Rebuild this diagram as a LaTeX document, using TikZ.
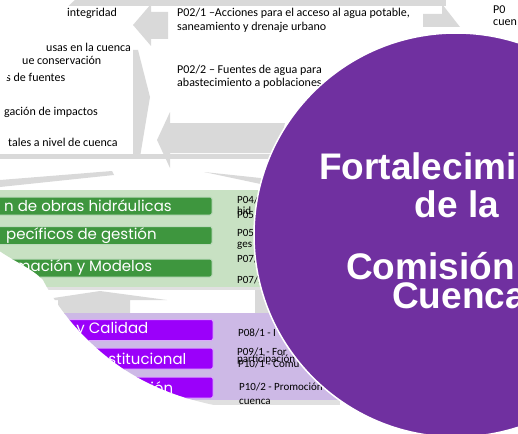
\documentclass[tikz,border=0pt]{standalone}
\usepackage{fontspec}
\setmainfont{Carlito}
\newfontfamily\boxfont{Poppins}
\newfontfamily\titlefont{Liberation Sans}
\usepackage{xcolor}
\usetikzlibrary{positioning}

\definecolor{arrowgray}{RGB}{217,217,217}
\definecolor{panelgreen}{RGB}{200,225,195}
\definecolor{boxgreen}{RGB}{62,150,62}
\definecolor{panelviolet}{RGB}{205,185,230}
\definecolor{boxviolet}{RGB}{155,0,250}
\definecolor{circleviolet}{RGB}{112,48,160}

\tikzset{
  ptext/.style={anchor=west, inner sep=0pt, font=\fontsize{12}{13.5}\selectfont},
  ctext/.style={anchor=west, inner sep=0pt, font=\fontsize{11}{12}\selectfont},
  gbox/.style={draw=white!65!boxgreen, line width=1pt, fill=boxgreen, rounded corners=2pt,
    minimum width=232pt, minimum height=18pt, inner sep=0pt},
  vbox/.style={draw=white!65!boxviolet, line width=1pt, fill=boxviolet, rounded corners=2pt,
    minimum width=232pt, minimum height=21pt, inner sep=0pt},
  btext/.style={anchor=west, inner sep=0pt, text=white, font=\boxfont\fontsize{15}{15}\selectfont},
  ttext/.style={anchor=base west, inner sep=0pt, text=white, font=\titlefont\bfseries\fontsize{37}{37}\selectfont},
}

\begin{document}
\begin{tikzpicture}[x=1pt, y=-1pt]
    \useasboundingbox (0,0) rectangle (518,433);
    \clip (0,0) rectangle (518,433);

    \begin{scope}
        % cut-out of the slide
        \clip (77,-2) .. controls (53,20) and (28,50) .. (-2,88) -- (-2,250)
              .. controls (15,262) and (32,268) .. (43,280)
              .. controls (56,305) and (80,338) .. (118,365)
              .. controls (150,388) and (200,408) .. (262,411)
              -- (520,411) -- (520,-2) -- cycle;

        % gray cycle arrows
        \fill[arrowgray] (0,-2) rectangle (446,6);
        \fill[arrowgray] (423,14) -- (442,14) -- (442,4) -- (460,27) -- (423,27) -- cycle;
        \fill[arrowgray] (133,25) -- (151,4) -- (151,12) -- (168,12) -- (168,39) -- (151,39) -- (151,46) -- cycle;
        \fill[arrowgray] (133,50) -- (138,50) -- (150,97) -- (140,157) -- (133,157) -- cycle;
        \fill[arrowgray] (157,140) -- (170,112) -- (170,123) -- (285,123) -- (278,153) -- (170,153) -- (170,168) -- cycle;
        \fill[arrowgray] (0,154) rectangle (272,159);
        \fill[arrowgray] (0,187) -- (0,180) -- (112,171) -- (114,175) -- cycle;
        \fill[arrowgray] (204,172) -- (270,179) -- (270,186) -- cycle;
        \fill[arrowgray] (40,300) -- (100,291) -- (167,300) -- (130,300) -- (130,314) -- (58,314) -- (58,300) -- cycle;
        \fill[arrowgray] (255,287) rectangle (272,314);

        % top texts
        \node[ptext] (integ) at (67,13) {integridad};
        \node[ptext] (causas) at (46,47) {usas en la cuenca};
        \node[ptext] (conser) at (22,60) {ue conservación};
        \node[ptext] (fuent) at (6,77) {s de fuentes};
        \node[ptext] (mitig) at (4,112) {gación de impactos};
        \node[ptext] (cuenc) at (8,142) {tales a nivel de cuenca};
        \node[ptext] (p021a) at (177,13) {P02/1 –Acciones para el acceso al agua potable,};
        \node[ptext] (p021b) at (177,27) {saneamiento y drenaje urbano};
        \node[ptext] (p022a) at (177,70) {P02/2 – Fuentes de agua para};
        \node[ptext] (p022b) at (177,83) {abastecimiento a poblaciones};
        \node[ptext] (p03a) at (493,10) {P0};
        \node[ptext] (p03b) at (493,23) {cuen};

        % green panel
        \fill[black!12] (-5,286) rectangle (330,290);
        \fill[panelgreen] (-5,190) rectangle (330,287);
        \node[gbox] (obras) at (96,206) {};
        \node[gbox] (gesti) at (96,235.5) {};
        \node[gbox] (model) at (96,268) {};
        \node[btext] (obrast) at (4,206) {n de obras hidráulicas};
        \node[btext] (gestit) at (6,235.5) {pecíficos de gestión};
        \node[btext] (modelt) at (15,268) {mación y Modelos};
        \node[ctext] (p04a) at (237,200) {P04/1};
        \node[ctext] (p04b) at (237,211) {hid};
        \node[ctext] (p05a) at (237,215) {P05/1};
        \node[ctext] (p05b) at (237,233) {P05/2};
        \node[ctext] (p05c) at (237,246) {ges};
        \node[ctext] (p07a) at (237,259) {P07/1};
        \node[ctext] (p07b) at (237,280) {P07/2};

        % violet panel
        \fill[black!12] (-5,399) rectangle (340,405);
        \fill[panelviolet] (-5,313) rectangle (340,400);
        \node[vbox] (calid) at (97,330) {};
        \node[vbox] (insti) at (97,358.5) {};
        \node[vbox] (comun) at (97,387.5) {};
        \node[btext] (calidt) at (62,330) {d y Calidad};
        \node[btext] (instit) at (95,359) {Institucional};
        \node[btext] (comunt) at (141,388) {ción};
        \node[ctext] (p08) at (238,333) {P08/1 - I};
        \node[ctext] (p09a) at (237,352) {P09/1 - For};
        \node[ctext] (p09b) at (237,360) {participación};
        \node[ctext] (p10a) at (238,364) {P10/1 - Comu};
        \node[ctext] (p10b) at (239,387) {P10/2 - Promoción};
        \node[ctext] (p10c) at (239,402) {cuenca};
    \end{scope}

    % title circle
    \fill[circleviolet, draw=white, line width=1.5pt] (456,235) circle [radius=202];
    \node[ttext] (fort) at (319,179) {Fortalecimi};
    \node[ttext, anchor=base] (dela) at (457,217) {de la};
    \node[ttext] (comi) at (346,279) {Comisión};
    \node[ttext] (cuen) at (392,308) {Cuenca};
\end{tikzpicture}
\end{document}
